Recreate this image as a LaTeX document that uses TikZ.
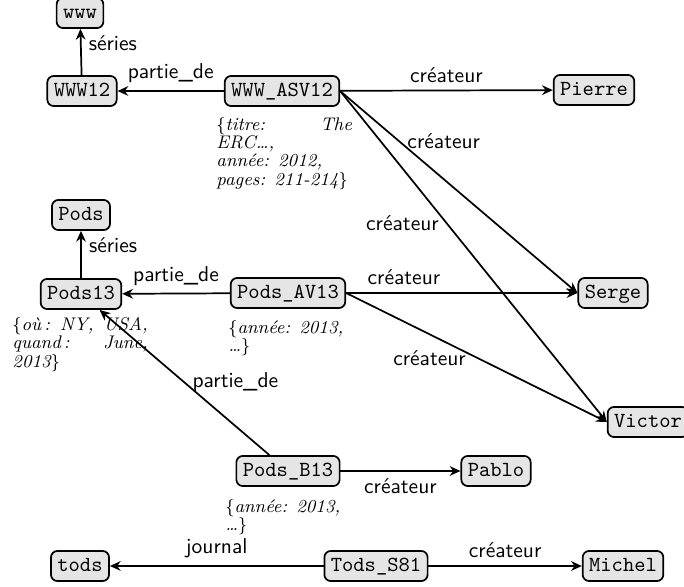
\documentclass[tikz,border=0pt]{standalone}
\usepackage{amsmath, amssymb}
\usepackage{tikz}
\usetikzlibrary{arrows.meta, positioning}

\tikzset{
  obj/.style={draw, thick, rounded corners=3pt, fill=black!10, font=\ttfamily,
    inner xsep=3pt, inner ysep=2.5pt, text height=7pt, text depth=2pt},
  info/.style={inner sep=0pt, anchor=north west, align=left,
    font={\fontsize{8.5}{8.5}\selectfont\itshape}},
  rel/.style={-{Stealth[length=5pt,width=4.5pt]}, thick, font=\sffamily},
}

\begin{document}
\begin{tikzpicture}[x=0.465pt, y=-0.465pt]
  \useasboundingbox (0,0) rectangle (684,587);

  % series and proceedings
  \node[obj] (www) at (80,13) {www};
  \node[obj] (www12) at (82,91) {WWW12};
  \node[obj] (pods) at (81,215) {Pods};
  \node[obj] (pods13) at (81,294) {Pods13};
  \node[obj] (tods) at (80,566) {tods};

  % papers
  \node[obj] (asv) at (282,91) {WWW\_ASV12};
  \node[obj] (av) at (288,293) {Pods\_AV13};
  \node[obj] (b13) at (288,471) {Pods\_B13};
  \node[obj] (s81) at (376,566) {Tods\_S81};

  % people
  \node[obj] (pierre) at (594,90) {Pierre};
  \node[obj] (serge) at (613,293) {Serge};
  \node[obj] (victor) at (648,422) {Victor};
  \node[obj] (pablo) at (496,471) {Pablo};
  \node[obj] (michel) at (623,566) {Michel};

  % attributes
  \node[info] (asvinfo) at (216,117)
    {\hbox to 63pt{$\{$titre:\hfil The}\\ ERC\dots,\\ année: 2012,\\ pages: 211-214$\}$};
  \node[info] (pods13info) at (12,317)
    {\hbox to 63pt{$\{$où\,:\hfil NY,\hfil USA,}\\ \hbox to 63pt{quand\,:\hfil June,}\\ 2013$\}$};
  \node[info] (avinfo) at (228,320)
    {$\{$année: 2013,\\ \dots$\}$};
  \node[info] (b13info) at (225,499)
    {$\{$année: 2013,\\ \dots$\}$};

  \draw[rel] (www12) -- (www) node[pos=0.7, right] {séries};
  \draw[rel] (asv) -- (www12) node[midway, above] {partie\_de};
  \draw[rel] (asv) -- (pierre) node[midway, above] {créateur};
  \draw[rel] (asv.east) -- (serge.west) node[pos=0.25, anchor=west] {créateur};
  \draw[rel] (asv.east) -- (victor.west) node[pos=0.4, anchor=east] {créateur};

  \draw[rel] (pods13) -- (pods) node[pos=0.7, right] {séries};
  \draw[rel] (av) -- (pods13) node[midway, above] {partie\_de};
  \draw[rel] (av) -- (serge) node[pos=0.25, above] {créateur};
  \draw[rel] (av.east) -- (victor.west) node[pos=0.32, below=4pt] {créateur};

  \draw[rel] (b13) -- (pods13) node[midway, right] {partie\_de};
  \draw[rel] (b13) -- (pablo) node[midway, below] {créateur};

  \draw[rel] (s81) -- (tods) node[midway, above] {journal};
  \draw[rel] (s81) -- (michel) node[midway, above] {créateur};
\end{tikzpicture}
\end{document}
